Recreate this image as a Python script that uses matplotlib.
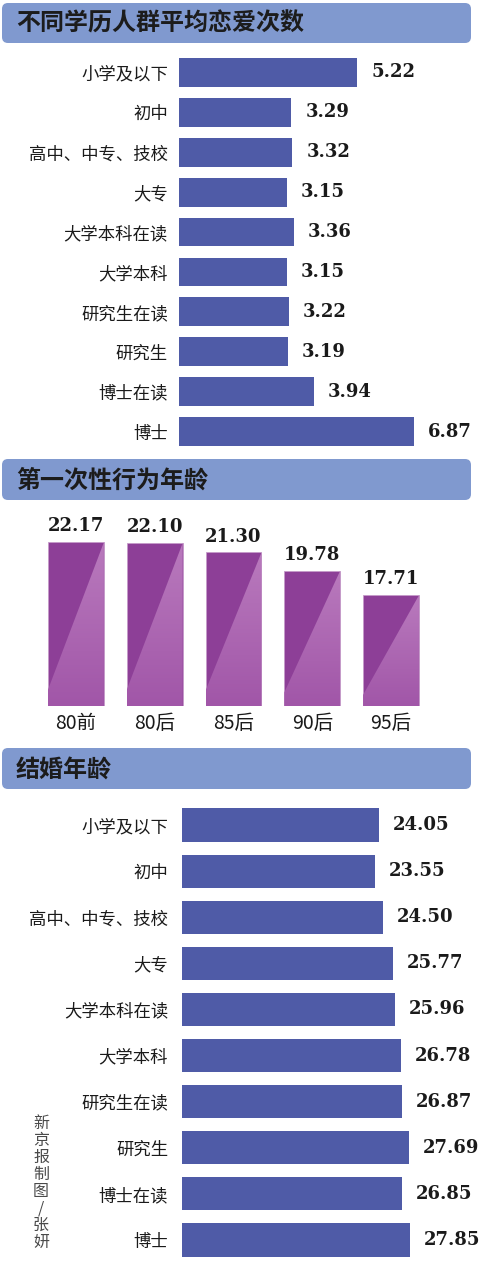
import matplotlib
matplotlib.use("Agg")
import matplotlib.pyplot as plt
import numpy as np
from matplotlib.patches import FancyBboxPatch, Polygon
from matplotlib.colors import LinearSegmentedColormap

plt.rcParams['font.family'] = ['Noto Sans CJK SC', 'DejaVu Sans']

# ---------------- data ----------------
edu_categories = ["小学及以下", "初中", "高中、中专、技校", "大专", "大学本科在读",
                  "大学本科", "研究生在读", "研究生", "博士在读", "博士"]
love_counts = [5.22, 3.29, 3.32, 3.15, 3.36, 3.15, 3.22, 3.19, 3.94, 6.87]

gen_categories = ["80前", "80后", "85后", "90后", "95后"]
first_sex_age = [22.17, 22.10, 21.30, 19.78, 17.71]

marriage_age = [24.05, 23.55, 24.50, 25.77, 25.96, 26.78, 26.87, 27.69, 26.85, 27.85]

titles = ["不同学历人群平均恋爱次数", "第一次性行为年龄", "结婚年龄"]
credit = "新京报制图/张妍"

# ---------------- style ----------------
W, H = 480, 1263
BLUE = "#4F5BA7"
HEAD = "#8099CF"
PURPLE_D = "#8D3F97"
VAL_FONT = dict(family=["DejaVu Serif"], fontweight="bold", color="#1a1a1a")

fig = plt.figure(figsize=(W / 100, H / 100), dpi=100)


def px_axes(x0, y0, x1, y1, **kw):
    return fig.add_axes([x0 / W, 1 - y1 / H, (x1 - x0) / W, (y1 - y0) / H], **kw)


# background / decoration axes
bg = px_axes(0, 0, W, H)
bg.set_xlim(0, W)
bg.set_ylim(H, 0)
bg.axis("off")
bg.set_zorder(-1)

for (y0, y1), t in zip([(3, 43), (459, 500), (748, 789)], titles):
    bg.add_patch(FancyBboxPatch((2 + 6, y0 + 6), 469 - 12, (y1 - y0) - 12,
                                boxstyle="round,pad=6", fc=HEAD, ec="none"))
    bg.text(16, (y0 + y1) / 2 + 1, t, fontsize=17.3, fontweight="bold",
            color="#1c1c1c", va="center", ha="left")

bg.text(41, 1183, "\n".join(credit), fontsize=11.5, color="#4a4a4a",
        ha="center", va="center", linespacing=1.0)


def hbar_panel(ax, values, scale_max, label_pad):
    y = np.arange(len(values))
    bars = ax.barh(y, values, height=0.72, color=BLUE, edgecolor="none")
    ax.set_xlim(0, scale_max)
    ax.set_ylim(len(values) - 0.5, -0.5)
    ax.set_yticks(y)
    ax.set_yticklabels(edu_categories, fontsize=12.5, color="#1a1a1a")
    ax.tick_params(axis="y", length=0, pad=label_pad)
    ax.set_xticks([])
    for s in ax.spines.values():
        s.set_visible(False)
    ax.patch.set_alpha(0)
    for b, v in zip(bars, values):
        ax.annotate(f"{v:.2f}", (b.get_width(), b.get_y() + b.get_height() / 2),
                    xytext=(10, 0), textcoords="offset points", va="center",
                    ha="left", fontsize=13, **VAL_FONT)


# ---- panel 1 ----
ax1 = px_axes(179, 52.5, W, 451.5)
hbar_panel(ax1, love_counts, (W - 179) / 34.15, 8)

# ---- panel 2 ----
ax2 = px_axes(36.6, 510, 430.4, 706)
ybase = 8.4
ytop = ybase + 196 / 11.9
x = np.arange(len(first_sex_age))
bars2 = ax2.bar(x, np.array(first_sex_age) - ybase, bottom=ybase, width=0.71,
                color=PURPLE_D, edgecolor="#c59bc9", linewidth=0.6)
ax2.set_xticks(x)
ax2.set_xticklabels(gen_categories, fontsize=14, color="#1a1a1a")
ax2.tick_params(axis="x", length=0, pad=5)
ax2.set_yticks([])
for s in ax2.spines.values():
    s.set_visible(False)
ax2.patch.set_alpha(0)

grad = np.linspace(1, 0, 256).reshape(-1, 1)
cmap = LinearSegmentedColormap.from_list("pp", ["#A156A8", "#B97ABD"])
for b, v in zip(bars2, first_sex_age):
    x0, w = b.get_x(), b.get_width()
    yb, yt = ybase, v
    tri = Polygon([(x0, yb + (yt - yb) * 0.1), (x0 + w, yt), (x0 + w, yb), (x0, yb)],
                  closed=True, fc="none", ec="none", transform=ax2.transData)
    ax2.add_patch(tri)
    im = ax2.imshow(grad, cmap=cmap, extent=(x0, x0 + w, yb, yt), aspect="auto",
                    zorder=2.5, interpolation="bilinear")
    im.set_clip_path(tri)
    ax2.annotate(f"{v:.2f}", (b.get_x() + w / 2, v), xytext=(0, 5),
                 textcoords="offset points", ha="center", va="bottom",
                 fontsize=13, **VAL_FONT)
ax2.set_xlim(-0.5, len(first_sex_age) - 0.5)
ax2.set_ylim(ybase, ytop)

# ---- panel 3 ----
ax3 = px_axes(182, 802, W, H)
hbar_panel(ax3, marriage_age, (W - 182) / 8.19, 10)

fig.savefig("out.png", dpi=100, facecolor="white")
